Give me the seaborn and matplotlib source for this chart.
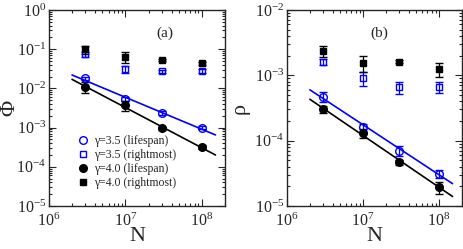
import numpy as np
import pandas as pd
import matplotlib
matplotlib.use("Agg")
import matplotlib.pyplot as plt
from matplotlib.lines import Line2D
from matplotlib.ticker import LogLocator, NullFormatter
import seaborn as sns

# Data
N = [3e6, 1e7, 3e7, 1e8]

# panel (a): Phi
phi_g35_life = [0.018, 0.0053, 0.0024, 0.0010]
phi_g35_life_err = [0.002, 0.0006, 0.0003, 0.0001]
phi_g35_right = [0.074, 0.031, 0.027, 0.028]
phi_g35_right_err = [0.009, 0.007, 0.003, 0.003]
phi_g40_life = [0.011, 0.0037, 0.00096, 0.00032]
phi_g40_life_err = [0.0035, 0.001, 0.0001, 0.00004]
phi_g40_right = [0.10, 0.064, 0.053, 0.044]
phi_g40_right_err = [0.024, 0.019, 0.004, 0.004]

# panel (b): rho
rho_g35_life = [0.00047, 0.000163, 7.0e-5, 3.1e-5]
rho_g35_life_err = [0.00008, 0.00002, 1.2e-5, 4e-6]
rho_g35_right = [0.0016, 0.0009, 0.00066, 0.00067]
rho_g35_right_err = [0.00015, 0.00022, 0.00014, 0.00013]
rho_g40_life = [0.000305, 0.000129, 4.7e-5, 1.93e-5]
rho_g40_life_err = [0.00004, 0.00002, 4e-6, 4e-6]
rho_g40_right = [0.00236, 0.00153, 0.00162, 0.00123]
rho_g40_right_err = [0.00045, 0.00042, 0.0001, 0.0003]

# fitted power-law lines (end points)
fit_N = [2e6, 1.5e8]
phi_fit_g35 = [0.022, 0.00065]
phi_fit_g40 = [0.017, 0.0002]
rho_fit_g35 = [0.0006, 2.2e-5]
rho_fit_g40 = [0.00043, 1.4e-5]

labels = ["γ=3.5 (lifespan)", "γ=3.5 (rightmost)",
          "γ=4.0 (lifespan)", "γ=4.0 (rightmost)"]

sns.set_style("ticks")
plt.rcParams["font.family"] = ["Liberation Serif", "DejaVu Serif"]
plt.rcParams["mathtext.fontset"] = "stix"

BLUE = "#0000ff"
styles = [
    dict(marker="o", mfc="none", mec=BLUE, color=BLUE, ms=5.5),
    dict(marker="s", mfc="none", mec=BLUE, color=BLUE, ms=5),
    dict(marker="o", mfc="black", mec="black", color="black", ms=5.5),
    dict(marker="s", mfc="black", mec="black", color="black", ms=5),
]

fig = plt.figure(figsize=(4.63, 2.49), dpi=100)
ax_a = fig.add_axes([49 / 463, 43 / 249, 176 / 463, 196 / 249])
ax_b = fig.add_axes([287 / 463, 43 / 249, 175 / 463, 196 / 249])

def draw_panel(ax, series, fits):
    for (vals, err), st in zip(series, styles):
        ax.errorbar(N, vals, yerr=err, ls="none", capsize=3, elinewidth=0.9,
                    capthick=0.9, mew=1.0, **st)
    for yv, c in zip(fits, [BLUE, "black"]):
        df = pd.DataFrame({"N": fit_N, "y": yv})
        sns.lineplot(data=df, x="N", y="y", ax=ax, color=c, lw=1.2, legend=False)
    ax.set_xscale("log")
    ax.set_yscale("log")
    ax.set_xlim(1e6, 2e8)
    for axis in (ax.xaxis, ax.yaxis):
        axis.set_major_locator(LogLocator(base=10, numticks=12))
        axis.set_minor_locator(LogLocator(base=10, subs=np.arange(2, 10), numticks=12))
        axis.set_minor_formatter(NullFormatter())
    ax.set_xlabel("N", fontsize=16, labelpad=-2)
    ax.tick_params(which="both", direction="in", top=True, right=True,
                   labelsize=11.5, width=0.8)
    ax.tick_params(axis="x", pad=5)
    ax.tick_params(axis="y", pad=2)
    ax.tick_params(which="major", length=5)
    ax.tick_params(which="minor", length=2.5)
    for s in ax.spines.values():
        s.set_linewidth(1.0)

draw_panel(ax_a,
           [(phi_g35_life, phi_g35_life_err), (phi_g35_right, phi_g35_right_err),
            (phi_g40_life, phi_g40_life_err), (phi_g40_right, phi_g40_right_err)],
           [phi_fit_g35, phi_fit_g40])
ax_a.set_ylim(1e-5, 1)
ax_a.set_ylabel("Φ", fontsize=16)
ax_a.yaxis.set_label_coords(-0.17, 0.5)
ax_a.text(0.66, 0.88, "(a)", transform=ax_a.transAxes, fontsize=11,
          ha="center", va="center")
handles = [Line2D([], [], ls="none", mew=1.0, **st) for st in styles]
ax_a.legend(handles, labels, loc="lower left", bbox_to_anchor=(0.1, 0.05),
            frameon=False, fontsize=8.5, handletextpad=0.2, labelspacing=0.18,
            handlelength=1.5, borderpad=0.1)

draw_panel(ax_b,
           [(rho_g35_life, rho_g35_life_err), (rho_g35_right, rho_g35_right_err),
            (rho_g40_life, rho_g40_life_err), (rho_g40_right, rho_g40_right_err)],
           [rho_fit_g35, rho_fit_g40])
ax_b.set_ylim(1e-5, 1e-2)
ax_b.set_ylabel("ρ", fontsize=16)
ax_b.yaxis.set_label_coords(-0.215, 0.5)
ax_b.text(0.53, 0.88, "(b)", transform=ax_b.transAxes, fontsize=11,
          ha="center", va="center")

fig.savefig("out.png", dpi=100)
